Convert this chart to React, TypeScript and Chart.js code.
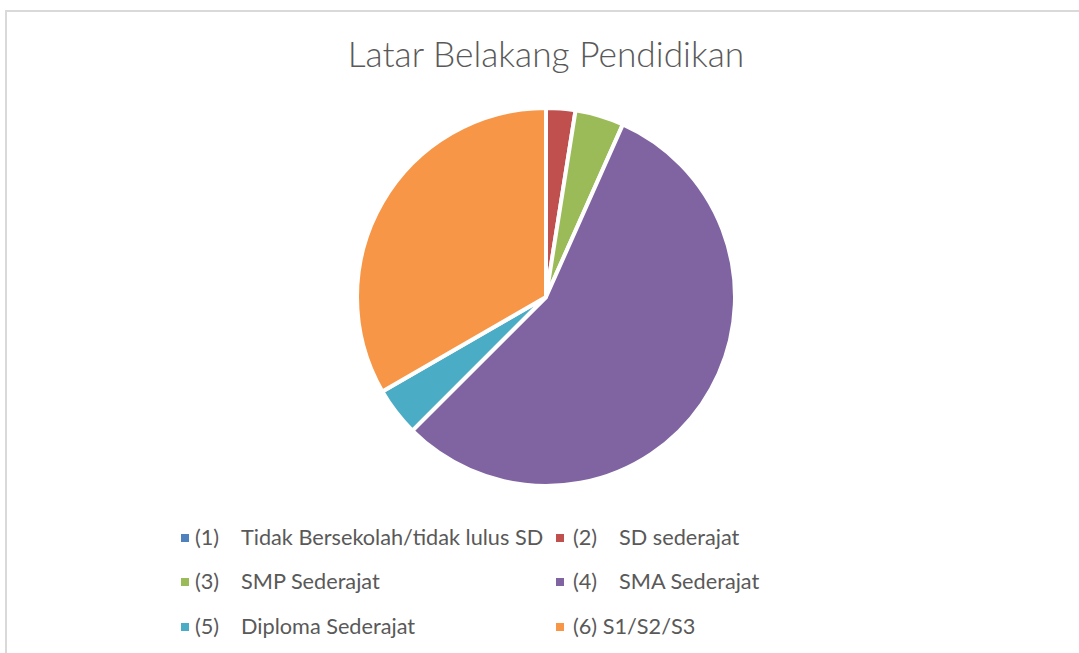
import React, { useEffect, useRef } from "react";
import { Chart, registerables } from "chart.js";
Chart.register(...registerables);

const chartTitle = "Latar Belakang Pendidikan";
const categories = [
  "(1)\tTidak Bersekolah/tidak lulus SD",
  "(2)\tSD sederajat",
  "(3)\tSMP Sederajat",
  "(4)\tSMA Sederajat",
  "(5)\tDiploma Sederajat",
  "(6) S1/S2/S3",
];
const seriesValues = [0, 3, 5, 67, 5, 40];
const sliceColors = ["#4F81BD", "#C0504D", "#9BBB59", "#8064A2", "#4BACC6", "#F79646"];

const FONT = "Lato, 'Open Sans', sans-serif";
const TEXT = "#595959";

export default function App() {
  const ref = useRef<HTMLCanvasElement | null>(null);
  useEffect(() => {
    if (!ref.current) return;
    const chart = new Chart(ref.current, {
      type: "pie",
      data: {
        labels: categories,
        datasets: [
          {
            data: seriesValues,
            backgroundColor: sliceColors,
            borderColor: "#ffffff",
            borderWidth: 4,
          },
        ],
      },
      options: {
        animation: false,
        responsive: false,
        maintainAspectRatio: false,
        layout: { padding: 0 },
        plugins: {
          legend: { display: false },
          title: { display: false },
          tooltip: { enabled: false },
        },
      },
    });
    return () => chart.destroy();
  }, []);

  const colX = [181, 556];
  const textX = [195, 573];
  const baselines = [545, 589.5, 634];
  const fs = 21.7;
  const tfs = 35.3;

  return (
    <div style={{ position: "fixed", left: 0, top: 0, width: 1079, height: 653, background: "#fff", overflow: "hidden" }}>
      <div
        style={{
          position: "absolute",
          left: 5,
          top: 10,
          width: 1100,
          height: 700,
          borderTop: "2px solid #D9D9D9",
          borderLeft: "2px solid #D9D9D9",
        }}
      />
      <div
        style={{
          position: "absolute",
          left: 0,
          width: 1092,
          top: 67 - 0.987 * tfs,
          textAlign: "center",
          fontFamily: FONT,
          fontWeight: 300,
          fontSize: tfs,
          color: TEXT,
          whiteSpace: "pre",
        }}
      >
        {chartTitle}
      </div>
      <canvas
        ref={ref}
        width={382}
        height={382}
        style={{ position: "absolute", left: 355, top: 106, width: 382, height: 382 }}
      />
      {categories.map((c, i) => {
        const col = i % 2;
        const row = Math.floor(i / 2);
        const bl = baselines[row];
        return (
          <React.Fragment key={i}>
            <div
              style={{
                position: "absolute",
                left: colX[col],
                top: bl - 7.5 - 4,
                width: 8,
                height: 8,
                background: sliceColors[i],
              }}
            />
            <div
              style={{
                position: "absolute",
                left: textX[col],
                top: bl - 0.987 * fs,
                fontFamily: FONT,
                fontSize: fs,
                color: TEXT,
                whiteSpace: "pre",
                tabSize: "46px" as any,
              }}
            >
              {c}
            </div>
          </React.Fragment>
        );
      })}
    </div>
  );
}
